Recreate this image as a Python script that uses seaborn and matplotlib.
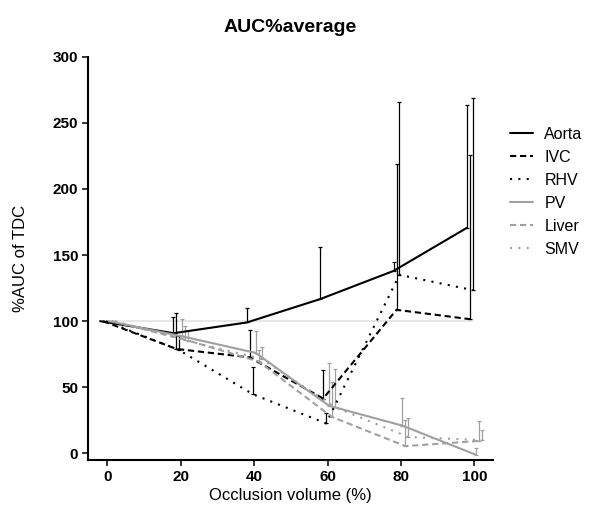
import numpy as np
import pandas as pd
import matplotlib
matplotlib.use("Agg")
import matplotlib.pyplot as plt
import seaborn as sns

# Occlusion levels (%) and vessel series
occlusion = [0, 20, 40, 60, 80, 100]
vessels = ["Aorta", "IVC", "RHV", "PV", "Liver", "SMV"]

# Mean %AUC of TDC for each vessel
aorta_mean = [100, 90.9, 99.0, 116.7, 138.0, 170.6]
ivc_mean = [100, 79.0, 72.6, 41.5, 108.6, 101.5]
rhv_mean = [100, 78.0, 44.8, 22.7, 135.0, 123.5]
pv_mean = [100, 88.5, 76.0, 36.0, 21.0, -1.0]
liver_mean = [100, 86.0, 69.5, 27.6, 5.5, 9.4]
smv_mean = [100, 85.0, 71.5, 35.0, 12.4, 10.0]

# Upper SD for each vessel
aorta_sd = [0, 12.1, 10.6, 39.7, 6.6, 93.0]
ivc_sd = [0, 27.5, 20.8, 21.3, 110.4, 124.5]
rhv_sd = [0, 11.0, 20.2, 7.7, 130.5, 145.5]
pv_sd = [0, 12.9, 16.9, 32.6, 20.8, 5.3]
liver_sd = [0, 10.4, 8.7, 26.4, 19.5, 14.9]
smv_sd = [0, 7.6, 8.7, 29.0, 14.6, 7.5]

means = [aorta_mean, ivc_mean, rhv_mean, pv_mean, liver_mean, smv_mean]
sds = [aorta_sd, ivc_sd, rhv_sd, pv_sd, liver_sd, smv_sd]

baseline = 100

black = "#000000"
gray = "#a0a0a0"
palette = {"Aorta": black, "IVC": black, "RHV": black,
           "PV": gray, "Liver": gray, "SMV": gray}
dash_map = {"Aorta": "", "IVC": (3, 1.8), "RHV": (1, 3),
            "PV": "", "Liver": (3, 1.8), "SMV": (1, 3)}

# small horizontal stagger so the series' error bars don't overlap
stagger = np.linspace(-2, 2, len(vessels))

rows = []
for v, off, m, s in zip(vessels, stagger, means, sds):
    for xo, yv, sv in zip(occlusion, m, s):
        rows.append({"Vessel": v, "Occlusion": xo, "xpos": xo + off,
                     "AUC": yv, "SD": sv})
df = pd.DataFrame(rows)

sns.set_theme(style="ticks")
plt.rcParams["font.family"] = ["Liberation Sans", "DejaVu Sans"]
plt.rcParams.update({"text.color": "black", "axes.labelcolor": "black",
                     "xtick.color": "black", "ytick.color": "black",
                     "axes.edgecolor": "black"})

fig = plt.figure(figsize=(5.89, 5.07), dpi=100)
ax = fig.add_axes([88 / 589, 1 - 460 / 507, 405 / 589, (460 - 56.7) / 507])

ax.hlines(baseline, stagger[0], 100 - 0.3, color="#e3e3e3", lw=1.2, zorder=1)

sns.lineplot(data=df, x="xpos", y="AUC", hue="Vessel", style="Vessel",
             palette=palette, dashes=dash_map, linewidth=1.5,
             estimator=None, sort=False, ax=ax, zorder=3)

handles, labels = ax.get_legend_handles_labels()
ax.get_legend().remove()

for v in vessels:
    sub = df[(df["Vessel"] == v) & (df["SD"] > 0)]
    ax.errorbar(sub["xpos"], sub["AUC"],
                yerr=[np.zeros(len(sub)), sub["SD"]],
                fmt="none", ecolor=palette[v], elinewidth=0.9,
                capsize=1.6, capthick=0.9, zorder=2)

ax.set_xlim(-5.3, 105.1)
ax.set_ylim(-5, 300)
ax.set_xticks(occlusion)
ax.set_yticks(np.arange(0, 301, 50))

for side in ["top", "right"]:
    ax.spines[side].set_visible(False)
for side in ["left", "bottom"]:
    ax.spines[side].set_linewidth(1.5)
    ax.spines[side].set_color("black")
ax.tick_params(axis="both", direction="out", length=4, width=1.1,
               color="black", labelcolor="black", labelsize=11, pad=3)
for lab in ax.get_xticklabels() + ax.get_yticklabels():
    lab.set_fontweight("bold")

ax.set_xlabel("Occlusion volume (%)", fontsize=12, labelpad=3, color="black")
ax.set_ylabel("%AUC of TDC", fontsize=12, color="black")
ax.yaxis.set_label_coords(-0.148, 0.5)
ax.set_title("AUC%average", fontsize=14, fontweight="bold", pad=18,
             color="black")

leg = fig.legend(handles, labels, loc="upper left",
                 bbox_to_anchor=(510 / 589, 1 - 127 / 507),
                 frameon=False, fontsize=11.5, handlelength=1.45,
                 handletextpad=0.7, labelspacing=0.5, borderpad=0,
                 borderaxespad=0)
for t in leg.get_texts():
    t.set_color("black")

fig.savefig("out.png", dpi=100)
